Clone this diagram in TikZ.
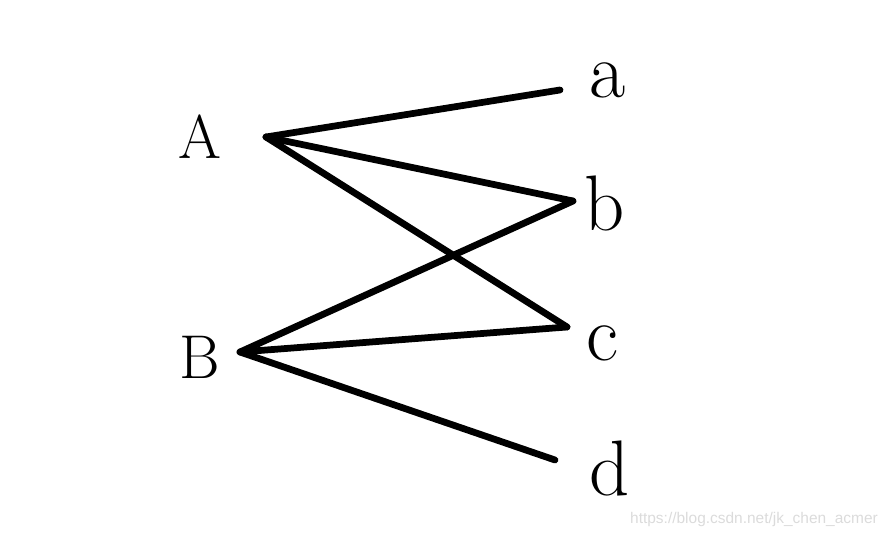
\documentclass[tikz,border=0pt]{standalone}
\usepackage{fontspec}
\newfontfamily\markfont{Liberation Sans}
\usetikzlibrary{positioning}

\begin{document}
\begin{tikzpicture}[x=0.025cm, y=-0.025cm,
edge/.style={line width=4.8pt, line cap=round, black},
letter/.style={inner sep=0pt, font=\fontsize{44}{50}\selectfont},
small_letter/.style={inner sep=0pt, font=\fontsize{56}{62}\selectfont},
watermark_text/.style={inner sep=0pt, text=black!14, font=\markfont\fontsize{11}{13}\selectfont},
]
\useasboundingbox (0,0) rectangle (891,538);

% ends of the edges
\coordinate (A) at (266,137);
\coordinate (B) at (240,352);
\coordinate (a) at (560,90);
\coordinate (b) at (573,201);
\coordinate (c) at (567,327);
\coordinate (d) at (555,460);

% letters
\node[letter](labelA) at (200,137) {A};
\node[letter](labelB) at (200,357) {B};
\node[small_letter](labela) at (608,80) {a};
\node[small_letter](labelb) at (605,203) {b};
\node[small_letter](labelc) at (602,343) {c};
\node[small_letter](labeld) at (610,468) {d};

% edges
\draw[edge] (A) -- (a);
\draw[edge] (A) -- (b);
\draw[edge] (A) -- (c);
\draw[edge] (B) -- (b);
\draw[edge] (B) -- (c);
\draw[edge] (B) -- (d);

\node[watermark_text](watermark) at (754,519) {https://blog.csdn.net/jk\_chen\_acmer};
\end{tikzpicture}
\end{document}
